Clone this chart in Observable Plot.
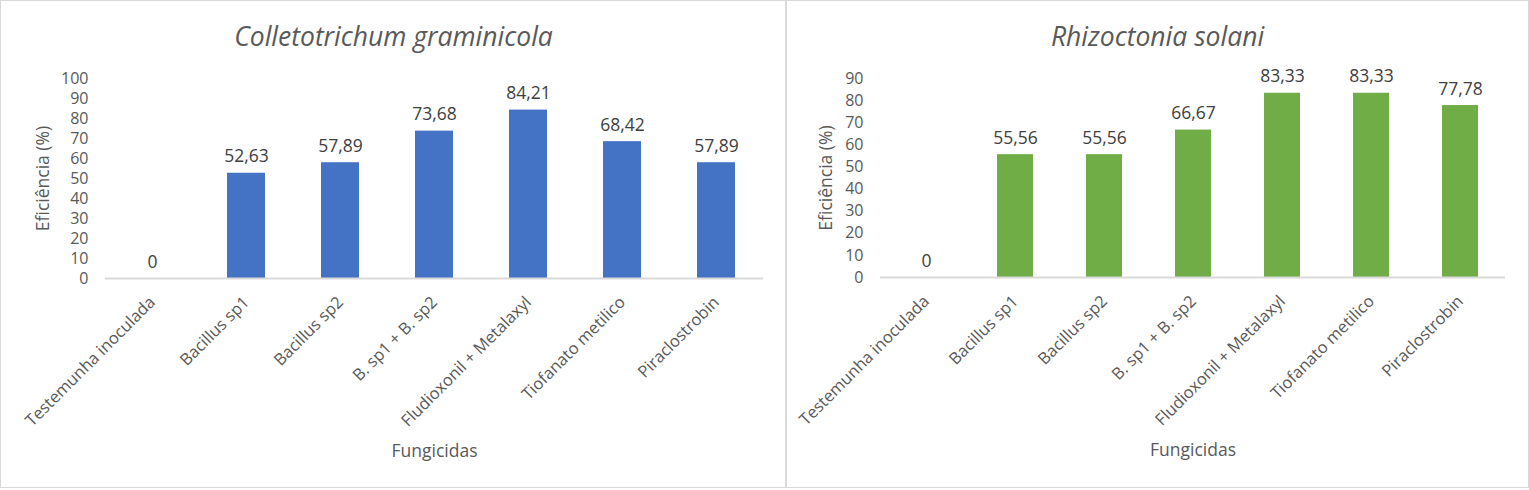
<!DOCTYPE html>
<html>
<head>
<meta charset="utf-8">
<script src="https://cdn.jsdelivr.net/npm/d3@7"></script>
<script src="https://cdn.jsdelivr.net/npm/@observablehq/plot@0.6"></script>
<style>
  html, body { margin: 0; padding: 0; background: #fff; }
  #wrap { position: relative; width: 1529px; height: 490px; }
  .panel { position: absolute; top: 0; height: 488px; box-sizing: border-box; border: 1px solid #D9D9D9; background: #fff; }
  .panel svg { display: block; }
</style>
</head>
<body>
<div id="wrap">
  <div class="panel" id="left" style="left:0;width:786px;"></div>
  <div class="panel" id="right" style="left:786px;width:743px;"></div>
</div>
<script>
const categories = ["Testemunha inoculada", "Bacillus sp1", "Bacillus sp2", "B. sp1 + B. sp2", "Fludioxonil + Metalaxyl", "Tiofanato metilico", "Piraclostrobin"];
const colletotrichum = [0, 52.63, 57.89, 73.68, 84.21, 68.42, 57.89];
const rhizoctonia = [0, 55.56, 55.56, 66.67, 83.33, 83.33, 77.78];
const ticksLeft = [0, 10, 20, 30, 40, 50, 60, 70, 80, 90, 100];
const ticksRight = [0, 10, 20, 30, 40, 50, 60, 70, 80, 90];
const titleLeft = "Colletotrichum graminicola";
const titleRight = "Rhizoctonia solani";
const yLabel = "Eficiência (%)";
const xLabel = "Fungicidas";

const fmt = v => v === 0 ? "0" : v.toFixed(2).replace(".", ",");

function chart(o) {
  const data = categories.map((c, i) => ({cat: c, v: o.values[i]}));
  const ff = "'Open Sans', sans-serif";
  return Plot.plot({
    width: o.width, height: o.height,
    marginLeft: o.ml, marginRight: o.mr, marginTop: o.mt, marginBottom: o.mb,
    style: {fontFamily: ff, color: "#595959", background: "white"},
    x: {domain: categories, paddingInner: 0.6, paddingOuter: 0.3},
    y: {domain: [0, o.yMax]},
    marks: [
      Plot.barY(data, {x: "cat", y: "v", fill: o.color}),
      Plot.ruleY([0], {stroke: "#D9D9D9", strokeWidth: 2}),
      Plot.axisY({ticks: o.ticks, tickSize: 0, tickPadding: 17, fontSize: 16, label: null, tickFormat: d => String(d), fill: "#595959"}),
      Plot.axisX({tickSize: 0, tickPadding: 21, tickRotate: -45, fontSize: 16.5, label: null, fill: "#595959"}),
      Plot.text(data, {x: "cat", y: "v", text: d => fmt(d.v), dy: -11, lineAnchor: "bottom", fontSize: 17.5, fill: "#404040"}),
      Plot.text([o.title], {frameAnchor: "top-left", dx: o.titleDx, dy: -41, textAnchor: "middle", lineAnchor: "middle", fontSize: 26.5, fontStyle: "italic", fill: "#595959"}),
      Plot.text([yLabel], {frameAnchor: "left", dx: o.yLabelDx, rotate: -90, textAnchor: "middle", lineAnchor: "middle", fontSize: 17.5, fill: "#595959"}),
      Plot.text([xLabel], {frameAnchor: "bottom", dy: 173, textAnchor: "middle", lineAnchor: "middle", fontSize: 17.5, fill: "#595959"})
    ]
  });
}

document.getElementById("left").append(chart({
  values: colletotrichum, color: "#4472C4", yMax: 100, ticks: ticksLeft, title: titleLeft,
  width: 784, height: 486, ml: 104, mr: 22, mt: 77, mb: 209, titleDx: 288, yLabelDx: -62
}));
document.getElementById("right").append(chart({
  values: rhizoctonia, color: "#70AD47", yMax: 90, ticks: ticksRight, title: titleRight,
  width: 741, height: 486, ml: 93, mr: 23, mt: 77, mb: 210, titleDx: 277, yLabelDx: -54
}));
</script>
</body>
</html>
